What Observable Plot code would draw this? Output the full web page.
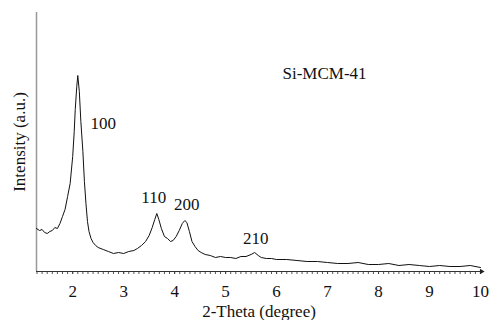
<!DOCTYPE html>
<html>
<head>
<meta charset="utf-8">
<script src="https://cdn.jsdelivr.net/npm/d3@7"></script>
<script src="https://cdn.jsdelivr.net/npm/@observablehq/plot@0.6"></script>
<style>
  html, body { margin: 0; padding: 0; background: #fff; }
  #chart { width: 491px; height: 320px; }
</style>
</head>
<body>
<div id="chart"></div>
<script>
// 2-theta (degree)
const twoTheta = [1.29,1.35,1.40,1.45,1.50,1.55,1.60,1.65,1.70,1.75,1.80,1.85,1.90,1.95,2.00,2.03,2.05,2.08,2.10,2.13,2.16,2.20,2.23,2.26,2.29,2.32,2.36,2.40,2.45,2.50,2.60,2.70,2.80,2.90,3.00,3.10,3.20,3.27,3.35,3.43,3.50,3.56,3.61,3.65,3.69,3.74,3.80,3.86,3.92,3.97,4.03,4.09,4.15,4.20,4.24,4.29,4.34,4.40,4.46,4.52,4.60,4.70,4.80,4.90,5.00,5.10,5.20,5.30,5.40,5.50,5.57,5.64,5.70,5.80,5.90,6.00,6.20,6.40,6.60,6.80,7.00,7.20,7.40,7.60,7.80,8.00,8.20,8.40,8.60,8.80,9.00,9.20,9.40,9.60,9.80,10.00];
// Intensity (a.u.)
const intensity = [43,41,42,39,38,40,41,44,43,48,55,62,75,88,115,140,162,185,196,180,150,120,90,68,50,40,33,29,26,24,22,20,18,19,18,20,21,23,26,30,36,44,52,58,52,43,35,33,30,31,35,41,48,51,49,40,30,25,21,19,17,16,14,15,14,14,13,15,15,17,19,16,14,13,13,12,12,11,10,10,9,8,8,9,7,7,8,6,7,6,5,6,5,5,6,4];

// peak labels
const peakLabels = ["100","110","200","210"];
const peakX = [2.60,3.59,4.24,5.59];
const peakY = [148,74,67,33];

const sampleName = "Si-MCM-41";
const sampleX = 6.94, sampleY = 198;

const majorTicks = [2,3,4,5,6,7,8,9,10];
const minorTicks = d3.range(13, 101).map(d => d / 10);

const FONT = "'Liberation Serif', 'DejaVu Serif', serif";
const FS = 17;

const data = twoTheta.map((x, i) => ({x, y: intensity[i]}));
const peaks = peakLabels.map((t, i) => ({t, x: peakX[i], y: peakY[i]}));

const chart = Plot.plot({
  width: 491,
  height: 320,
  marginLeft: 36,
  marginRight: 10,
  marginTop: 12,
  marginBottom: 49,
  style: {fontFamily: FONT, fontSize: FS + "px", color: "#111", background: "#fff"},
  x: {domain: [1.29, 10.02]},
  y: {domain: [0, 259], axis: null},
  marks: [
    Plot.axisX(minorTicks, {tickSize: 3, tickFormat: () => "", stroke: "#555", label: null}),
    Plot.axisX(majorTicks, {tickSize: 3, tickPadding: 10, stroke: "#444", fontSize: FS, fontFamily: FONT,
      label: "2-Theta (degree)", labelAnchor: "center", labelOffset: 45, labelArrow: "none"}),
    Plot.ruleY([0], {stroke: "#333", strokeWidth: 1}),
    Plot.ruleX([1.29], {stroke: "#999", strokeWidth: 1.5}),
    Plot.dot([{x: 10.02, y: 0}], {x: "x", y: "y", symbol: "triangle", r: 2, fill: "#222", stroke: null, rotate: 90}),
    Plot.line(data, {x: "x", y: "y", stroke: "#111", strokeWidth: 1}),
    Plot.text(peaks, {x: "x", y: "y", text: "t", fontSize: FS, fontFamily: FONT, fill: "#111"}),
    Plot.text([sampleName], {x: sampleX, y: sampleY, text: d => d, fontSize: FS, fontFamily: FONT, fill: "#111"}),
    Plot.text(["Intensity (a.u.)"], {frameAnchor: "left", dx: -17, rotate: -90, text: d => d, fontSize: FS, fontFamily: FONT, fill: "#111", textAnchor: "middle"})
  ]
});
document.getElementById("chart").appendChild(chart);
</script>
</body>
</html>
